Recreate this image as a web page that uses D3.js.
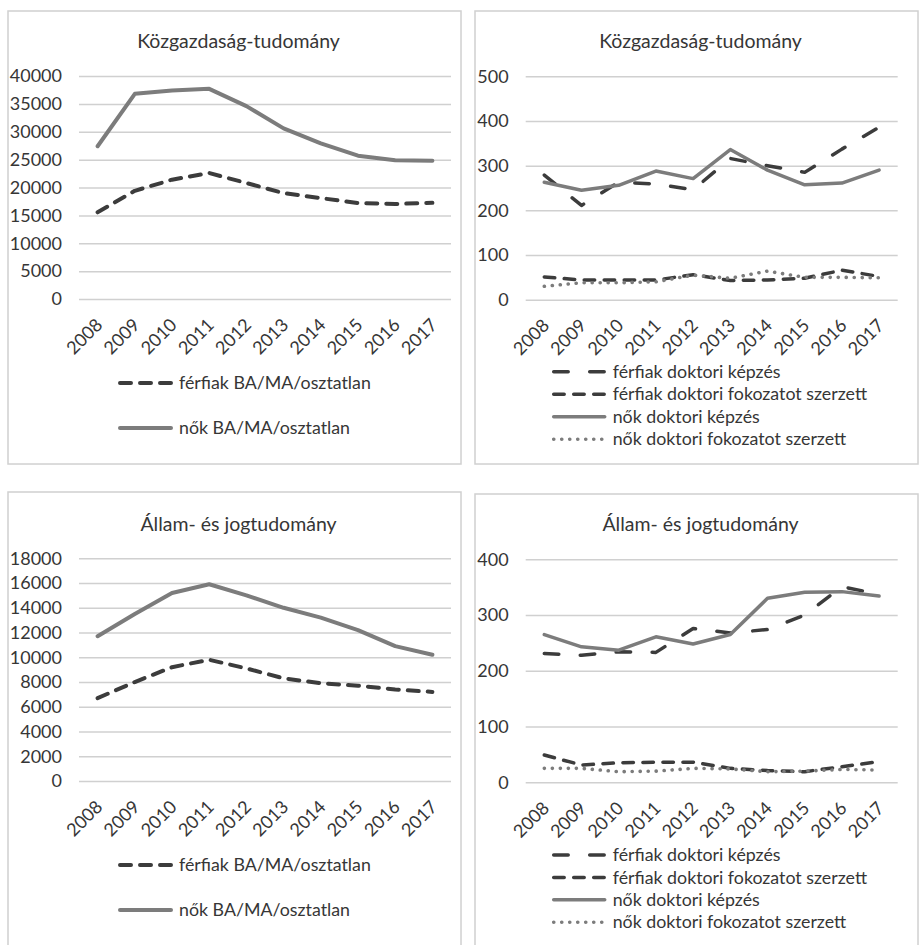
<!DOCTYPE html>
<html>
<head>
<meta charset="utf-8">
<script src="https://cdn.jsdelivr.net/npm/d3@7"></script>
<style>
  body { margin: 0; background: #fff; }
  svg text { font-family: Lato, "Open Sans", sans-serif; fill: #363636; }
</style>
</head>
<body>
<svg id="chart" width="919" height="945"></svg>
<script>
// values
const years = [2008, 2009, 2010, 2011, 2012, 2013, 2014, 2015, 2016, 2017];

const kozgBaFerfiak = [15550, 19400, 21400, 22600, 20800, 19000, 18100, 17200, 17050, 17250];
const kozgBaNok = [27400, 36800, 37400, 37700, 34600, 30600, 27900, 25700, 24900, 24800];

const kozgDrFerfiKepzes = [279, 211, 263, 259, 246, 316, 300, 285, 337, 386];
const kozgDrFerfiFokozat = [51, 44, 44, 44, 56, 43, 44, 48, 66, 52];
const kozgDrNoKepzes = [263, 245, 256, 288, 271, 336, 290, 257, 261, 290];
const kozgDrNoFokozat = [30, 38, 38, 40, 55, 48, 64, 50, 50, 49];

const jogBaFerfiak = [6700, 8000, 9200, 9800, 9100, 8300, 7900, 7700, 7400, 7200];
const jogBaNok = [11700, 13500, 15200, 15900, 15000, 14000, 13200, 12200, 10900, 10200];

const jogDrFerfiKepzes = [231, 228, 234, 233, 276, 268, 274, 300, 351, 337];
const jogDrFerfiFokozat = [49, 31, 35, 36, 36, 25, 21, 19, 28, 37];
const jogDrNoKepzes = [265, 243, 237, 261, 248, 265, 330, 341, 342, 334];
const jogDrNoFokozat = [25, 25, 19, 20, 25, 24, 19, 20, 23, 22];

const kozgBaTicks = [0, 5000, 10000, 15000, 20000, 25000, 30000, 35000, 40000];
const kozgDrTicks = [0, 100, 200, 300, 400, 500];
const jogBaTicks = [0, 2000, 4000, 6000, 8000, 10000, 12000, 14000, 16000, 18000];
const jogDrTicks = [0, 100, 200, 300, 400];

// line styles (Excel look)
const dark = "#3c3c3c", grey = "#7c7c7c";
const styles = {
    baFerfi:     {color: dark, width: 4, dash: "11,9"},
    baNo:        {color: grey, width: 4, dash: null},
    drFerfiKepz: {color: dark, width: 3.5, dash: "14.5,21.5"},
    drFerfiFok:  {color: dark, width: 3.5, dash: "10.5,9.5"},
    drNoKepz:    {color: grey, width: 3.5, dash: null},
    drNoFok:     {color: grey, width: 3.6, dash: "0.1,7.9"}
};

function baSeries(ferfi, no) {
    return [
        {name: "férfiak BA/MA/osztatlan", values: ferfi, style: styles.baFerfi},
        {name: "nők BA/MA/osztatlan", values: no, style: styles.baNo}
    ];
}
function drSeries(fk, ff, nk, nf) {
    return [
        {name: "férfiak doktori képzés", values: fk, style: styles.drFerfiKepz},
        {name: "férfiak doktori fokozatot szerzett", values: ff, style: styles.drFerfiFok},
        {name: "nők doktori képzés", values: nk, style: styles.drNoKepz},
        {name: "nők doktori fokozatot szerzett", values: nf, style: styles.drNoFok}
    ];
}

const panels = [
    {title: "Közgazdaság-tudomány", box: [8, 11, 453, 453], titleY: 48,
     plot: [79, 76, 372, 223], ticks: kozgBaTicks,
     series: baSeries(kozgBaFerfiak, kozgBaNok),
     legend: {x: 118, y: 383, dy: 45}},
    {title: "Közgazdaság-tudomány", box: [475, 11, 443, 453], titleY: 48,
     plot: [525.7, 76.3, 372, 223.4], ticks: kozgDrTicks,
     series: drSeries(kozgDrFerfiKepzes, kozgDrFerfiFokozat, kozgDrNoKepzes, kozgDrNoFokozat),
     legend: {x: 551.7, y: 371.7, dy: 22.5}},
    {title: "Állam- és jogtudomány", box: [8, 492, 453, 470], titleY: 531,
     plot: [79, 558.3, 372, 222.7], ticks: jogBaTicks,
     series: baSeries(jogBaFerfiak, jogBaNok),
     legend: {x: 118, y: 865, dy: 45}},
    {title: "Állam- és jogtudomány", box: [475, 494, 443, 470], titleY: 531,
     plot: [525.7, 559.3, 372, 223], ticks: jogDrTicks,
     series: drSeries(jogDrFerfiKepzes, jogDrFerfiFokozat, jogDrNoKepzes, jogDrNoFokozat),
     legend: {x: 551.7, y: 855, dy: 22.4}}
];

const svg = d3.select("#chart");

panels.forEach(p => {
    let [bx, by, bw, bh] = p.box;
    let [px, py, pw, ph] = p.plot;

    //panel frame
    svg.append("rect")
        .attr("x", bx).attr("y", by).attr("width", bw).attr("height", bh)
        .attr("fill", "none").attr("stroke", "#d0d0d0").attr("stroke-width", 1.5);

    //title
    svg.append("text")
        .attr("x", bx + bw / 2 + 4).attr("y", p.titleY)
        .attr("text-anchor", "middle")
        .style("font-size", "19.5px")
        .text(p.title);

    let x = d3.scaleBand().domain(years).range([0, pw]);
    let y = d3.scaleLinear().domain([0, d3.max(p.ticks)]).range([ph, 0]);

    let g = svg.append("g").attr("transform", "translate(" + px + "," + py + ")");

    //gridlines + y labels
    let yAxis = g.append("g")
        .call(d3.axisLeft(y).tickValues(p.ticks).tickSize(-pw).tickPadding(17).tickFormat(d3.format("d")));
    yAxis.select(".domain").remove();
    yAxis.selectAll(".tick line").attr("stroke", "#d0d0d0").attr("stroke-width", 1.5);
    yAxis.selectAll(".tick text").style("font-size", "18px").attr("fill", "#363636");

    //x labels, rotated
    let xAxis = g.append("g")
        .attr("transform", "translate(0," + ph + ")")
        .call(d3.axisBottom(x).tickSize(0));
    xAxis.select(".domain").remove();
    xAxis.selectAll(".tick text")
        .style("font-size", "18px")
        .attr("fill", "#363636")
        .attr("text-anchor", "end")
        .attr("x", 0).attr("y", 0).attr("dy", 0)
        .attr("transform", "translate(6,27) rotate(-45)");

    let line = d3.line()
        .x((d, i) => x(years[i]) + x.bandwidth() / 2)
        .y(d => y(d));

    p.series.forEach(s => {
        g.append("path")
            .datum(s.values)
            .attr("d", line)
            .attr("fill", "none")
            .attr("stroke", s.style.color)
            .attr("stroke-width", s.style.width)
            .attr("stroke-linecap", "round")
            .attr("stroke-linejoin", "round")
            .attr("stroke-dasharray", s.style.dash);
    });

    //legend
    p.series.forEach((s, i) => {
        let ly = p.legend.y + i * p.legend.dy;
        svg.append("line")
            .attr("x1", p.legend.x + 2).attr("x2", p.legend.x + 53)
            .attr("y1", ly).attr("y2", ly)
            .attr("stroke", s.style.color)
            .attr("stroke-width", s.style.width)
            .attr("stroke-linecap", "round")
            .attr("stroke-dasharray", s.style.dash);
        svg.append("text")
            .attr("x", p.legend.x + 61).attr("y", ly)
            .attr("dy", "0.35em")
            .style("font-size", "17.8px")
            .text(s.name);
    });
});
</script>
</body>
</html>
